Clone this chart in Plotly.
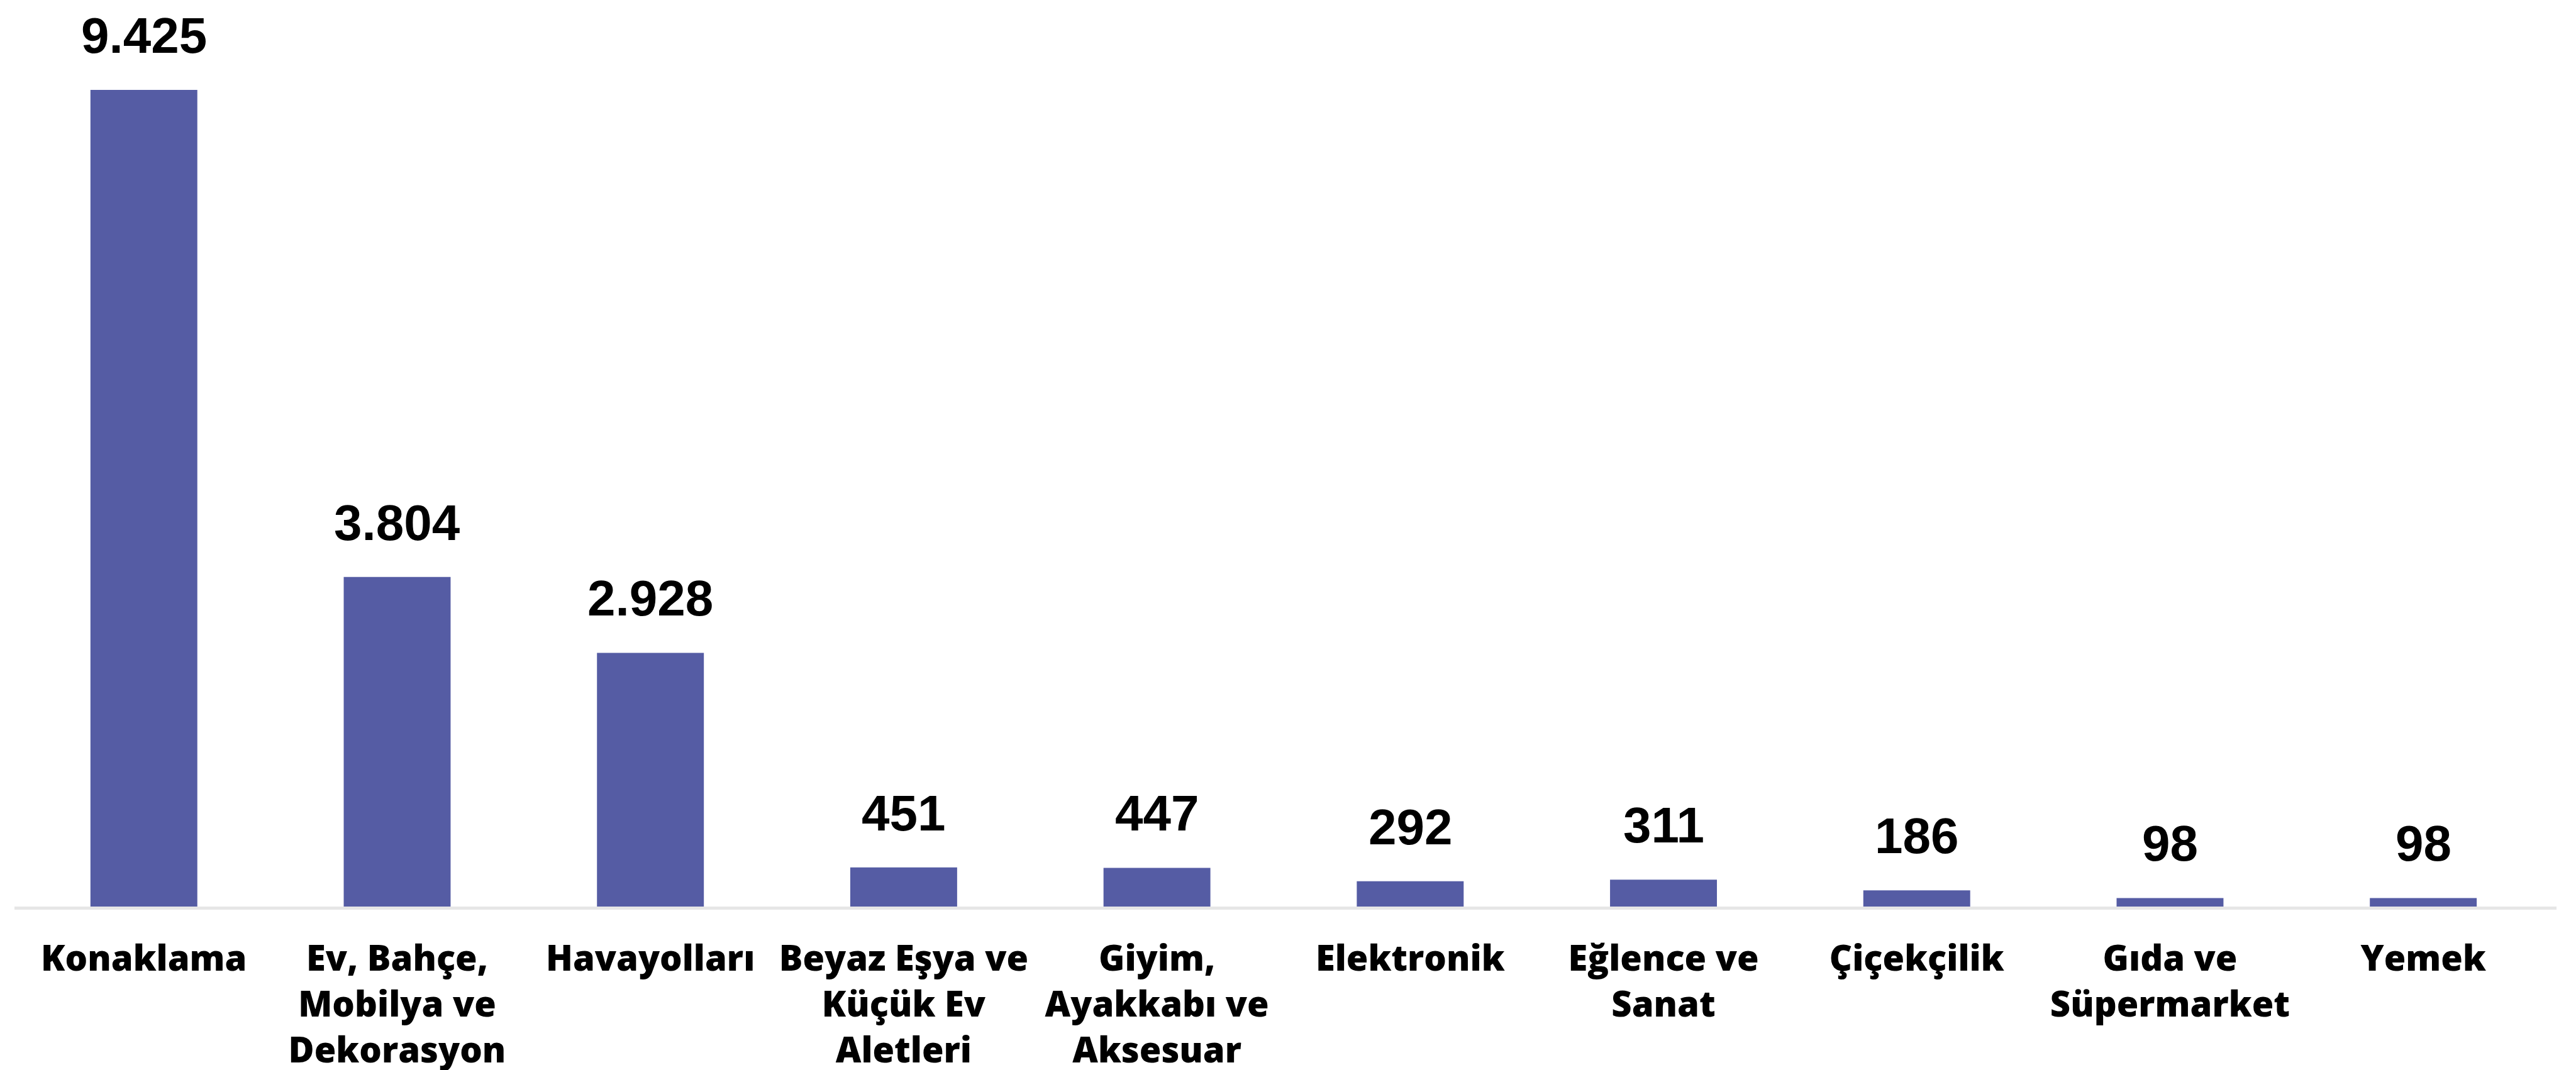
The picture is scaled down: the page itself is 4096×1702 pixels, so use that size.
import plotly.graph_objects as go

# ---- data ----
categories = ["Konaklama", "Ev, Bahçe, Mobilya ve Dekorasyon", "Havayolları",
              "Beyaz Eşya ve Küçük Ev Aletleri", "Giyim, Ayakkabı ve Aksesuar",
              "Elektronik", "Eğlence ve Sanat", "Çiçekçilik",
              "Gıda ve Süpermarket", "Yemek"]
tick_labels = ["Konaklama", "Ev, Bahçe,<br>Mobilya ve<br>Dekorasyon", "Havayolları",
               "Beyaz Eşya ve<br>Küçük Ev<br>Aletleri", "Giyim,<br>Ayakkabı ve<br>Aksesuar",
               "Elektronik", "Eğlence ve<br>Sanat", "Çiçekçilik",
               "Gıda ve<br>Süpermarket", "Yemek"]
values = [9425, 3804, 2928, 451, 447, 292, 311, 186, 98, 98]
value_labels = ["9.425", "3.804", "2.928", "451", "447", "292", "311", "186", "98", "98"]

BAR_COLOR = "#555CA4"

fig = go.Figure()
fig.add_trace(go.Bar(
    x=categories, y=values,
    marker=dict(color=BAR_COLOR, line=dict(width=0)),
    hoverinfo="skip",
))

for c, v, t in zip(categories, values, value_labels):
    fig.add_annotation(
        x=c, y=v, text=t, showarrow=False,
        xanchor="center", yanchor="bottom", yshift=40,
        font=dict(family="Liberation Sans, Arial, sans-serif", size=80,
                  color="#000000", weight="bold"),
    )

fig.update_layout(
    width=4096, height=1702,
    margin=dict(l=15, r=39, t=60, b=268, autoexpand=False),
    paper_bgcolor="#FFFFFF", plot_bgcolor="#FFFFFF",
    bargap=0.578,
    showlegend=False,
    xaxis=dict(
        type="category", automargin=False,
        range=[-0.511, 9.526],
        tickmode="array", tickvals=categories, ticktext=tick_labels,
        tickfont=dict(family="Open Sans, sans-serif", size=56, color="#000000", weight=800),
        ticklabelstandoff=30,
        showline=True, linecolor="#E6E6E6", linewidth=5,
        showgrid=False, ticks="", zeroline=False,
    ),
    yaxis=dict(
        range=[0, 9970], automargin=False,
        showticklabels=False, showgrid=False, zeroline=False, showline=False, ticks="",
    ),
)

fig.write_html("out.html")
